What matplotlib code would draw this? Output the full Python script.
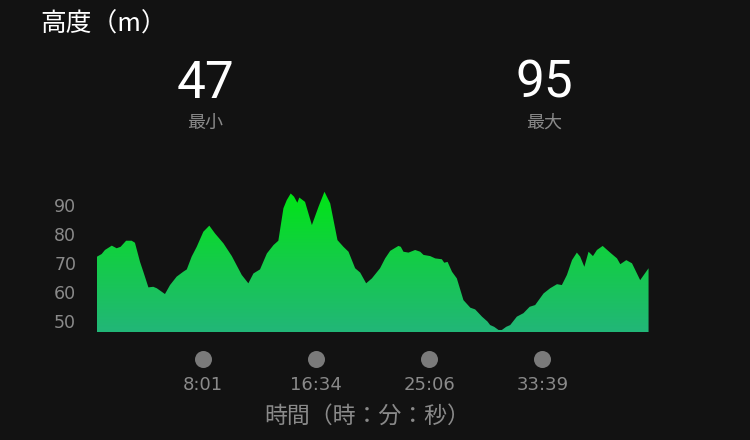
import numpy as np
import matplotlib.pyplot as plt
from matplotlib.colors import LinearSegmentedColormap
from matplotlib.transforms import blended_transform_factory

plt.rcParams['font.family'] = ['Noto Sans CJK JP', 'DejaVu Sans']

# 経過時間 (秒) と高度 (m)
t_sec = [0, 21, 36, 67, 89, 107, 132, 157, 172, 195, 210, 233, 255, 271, 308,
         331, 361, 391, 407, 429, 452, 482, 509, 535, 573, 611, 656, 686, 709,
         739, 770, 800, 822, 845, 860, 878, 893, 908, 917, 943, 974, 1004, 1031,
         1057, 1090, 1117, 1140, 1170, 1193, 1220, 1246, 1283, 1306, 1329, 1366,
         1377, 1389, 1412, 1442, 1465, 1480, 1510, 1533, 1563, 1574, 1589, 1609,
         1631, 1661, 1692, 1714, 1745, 1770, 1782, 1800, 1820, 1835, 1855, 1873,
         1903, 1933, 1961, 1986, 2024, 2054, 2085, 2107, 2130, 2153, 2175, 2190,
         2209, 2228, 2248, 2266, 2292, 2326, 2357, 2372, 2399, 2425, 2462, 2500]
elev = [72.2, 73.1, 74.5, 76.0, 75.1, 75.6, 77.7, 77.7, 77.0, 70.4, 67.0, 61.6,
        61.8, 61.3, 59.3, 62.4, 65.3, 67.0, 67.8, 72.2, 75.6, 80.8, 82.9, 80.2,
        76.8, 72.4, 65.9, 63.0, 66.4, 67.8, 73.3, 76.2, 77.7, 88.9, 91.7, 94.0,
        92.9, 90.8, 92.6, 91.1, 83.1, 89.4, 94.6, 90.6, 77.9, 75.6, 73.9, 68.2,
        66.7, 63.0, 64.7, 68.2, 71.6, 74.2, 75.9, 75.6, 73.9, 73.6, 74.5, 73.9,
        72.8, 72.4, 71.6, 71.3, 70.1, 70.4, 67.0, 64.7, 57.2, 54.6, 54.0, 51.5,
        49.8, 48.6, 48.0, 46.9, 46.9, 48.0, 48.6, 51.5, 52.7, 54.9, 55.5, 59.5,
        61.3, 62.7, 62.4, 65.9, 71.0, 73.6, 72.2, 68.7, 73.9, 72.4, 74.5, 75.9,
        73.6, 71.6, 69.6, 71.0, 69.9, 64.1, 68.2]

y_ticks = [50, 60, 70, 80, 90]
x_ticks = [481, 994, 1506, 2019]
x_labels = ['8:01', '16:34', '25:06', '33:39']

bg = '#121212'
gray = '#8a8a8a'
ymin, ymax = 46.2, 95.2
xmax = 2502

fig = plt.figure(figsize=(7.5, 4.4), dpi=100)
fig.patch.set_facecolor(bg)
ax = fig.add_axes([97 / 750, 1 - 332 / 440, 552 / 750, 142 / 440])
ax.set_facecolor(bg)

# グラデーション塗り
poly = ax.fill_between(t_sec, elev, ymin, color='none', lw=0)
cmap = LinearSegmentedColormap.from_list('g', ['#22b678', '#14cc48', '#00e614'])
grad = np.linspace(0, 1, 256).reshape(-1, 1)
im = ax.imshow(grad, cmap=cmap, origin='lower', aspect='auto',
               extent=[0, xmax, ymin, ymax], zorder=2)
im.set_clip_path(poly.get_paths()[0], transform=ax.transData)

ax.set_xlim(0, xmax)
ax.set_ylim(ymin, ymax)
for s in ax.spines.values():
    s.set_visible(False)

ax.set_yticks(y_ticks)
ax.set_yticklabels([str(v) for v in y_ticks])
ax.set_xticks(x_ticks)
ax.set_xticklabels(x_labels)
ax.tick_params(axis='y', length=0, pad=15, labelsize=12.5, labelcolor=gray)
ax.tick_params(axis='x', length=0, pad=32, labelsize=13, labelcolor=gray)
for lab in ax.get_xticklabels() + ax.get_yticklabels():
    lab.set_family(['DejaVu Sans'])

# 目盛りの点
tr = blended_transform_factory(ax.transData, ax.transAxes)
ax.scatter(x_ticks, [-27 / 142] * 4, s=150, color='#7a7a7a', transform=tr,
           clip_on=False, lw=0)

fig.text(367 / 750, 1 - 416 / 440, '時間（時：分：秒）', color=gray, fontsize=16.5,
         ha='center', va='center')
fig.text(40 / 750, 1 - 25 / 440, '高度（m）', color='white', fontsize=18.5,
         ha='left', va='center')

fig.text(205 / 750, 1 - 84 / 440, '47', color='white', fontsize=37,
         ha='center', va='center', family=['Roboto', 'DejaVu Sans'])
fig.text(205 / 750, 1 - 123 / 440, '最小', color=gray, fontsize=13,
         ha='center', va='center')
fig.text(544 / 750, 1 - 84 / 440, '95', color='white', fontsize=37,
         ha='center', va='center', family=['Roboto', 'DejaVu Sans'])
fig.text(544 / 750, 1 - 123 / 440, '最大', color=gray, fontsize=13,
         ha='center', va='center')

fig.savefig('out.png', dpi=100, facecolor=bg)
